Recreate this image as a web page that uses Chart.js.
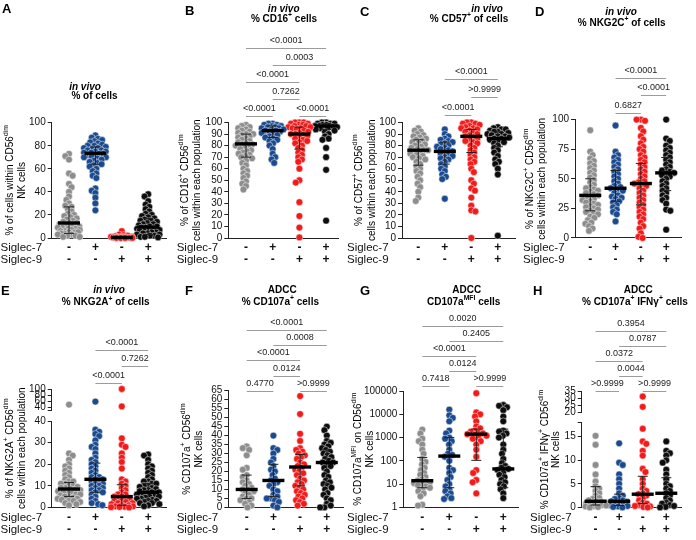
<!DOCTYPE html>
<html>
<head>
<meta charset="utf-8">
<script src="https://cdn.jsdelivr.net/npm/chart.js@4.4.1/dist/chart.umd.min.js"></script>
<style>
  html, body { margin: 0; padding: 0; background: #fff; }
  #wrap { position: relative; width: 696px; height: 540px; overflow: hidden; }
  #wrap canvas { position: absolute; left: 0; top: 0; }
</style>
</head>
<body>
<div id="wrap"></div>
<script>
const FONT = "'Liberation Sans', Arial, Helvetica, sans-serif";

// category rows
const siglec7 = ["-", "+", "-", "+"];
const siglec9 = ["-", "-", "+", "+"];
const groupColors = ["#8d8d8d", "#1b4a8e", "#f21a1a", "#0d0d0d"];

// A: in vivo % of cells
const A_grey = [73, 71, 68, 56, 54, 47, 44, 40, 36, 33, 30, 28, 27, 25, 23, 21, 20, 19, 18, 17, 16, 15, 14, 13, 13, 12, 11, 10, 10, 9, 9, 8, 8, 7, 7, 6, 6, 5, 5, 5, 4, 4, 3, 3, 2, 2, 1, 1];
const A_blue = [89, 87, 86, 85, 84, 83, 82, 81, 80, 80, 79, 78, 78, 77, 76, 76, 75, 75, 74, 74, 73, 73, 72, 72, 71, 70, 70, 69, 68, 67, 66, 65, 64, 63, 62, 60, 58, 56, 54, 52, 43, 41, 39, 35, 30, 24];
const A_red = [6, 3, 2.5, 2, 1.5, 1.2, 1, 1, 0.8, 0.7, 0.5, 0.5, 0.4, 0.3, 0.2, 0.2, 0.1, 0.1, 0, 0];
const A_black = [38, 36, 32, 29, 27, 25, 23, 21, 20, 19, 18, 17, 16, 15, 15, 14, 13, 12, 12, 11, 10, 10, 9, 9, 8, 8, 7, 7, 6, 6, 5, 5, 4, 4, 3, 3, 2, 2, 1, 1, 0.5];
const A_median = [13, 73.5, 0.5, 9.5];
const A_q1 = [4, 64, 0.1, 3];
const A_q3 = [27, 79, 1.2, 17];
const A_yTicks = [0, 20, 40, 60, 80, 100];

// B: in vivo % CD16+ cells
const B_grey = [98, 97, 96, 95, 94, 93, 92, 91, 90, 90, 89, 88, 87, 86, 85, 84, 83, 82, 81, 81, 80, 79, 78, 77, 76, 75, 74, 73, 72, 71, 70, 69, 67, 65, 63, 60, 58, 56, 54, 52, 49, 47, 45, 42];
const B_blue = [99, 99, 98, 98, 97, 97, 96, 96, 95, 95, 94, 94, 93, 93, 92, 92, 91, 90, 89, 88, 87, 86, 85, 84, 82, 80, 77, 73, 70, 68, 65];
const B_red = [100, 100, 100, 99, 99, 98, 98, 97, 97, 96, 96, 95, 95, 94, 93, 92, 91, 90, 90, 89, 88, 87, 86, 85, 84, 83, 82, 80, 78, 76, 74, 72, 70, 68, 66, 60, 50, 48, 31, 19, 9, 0.5];
const B_black = [100, 100, 99, 99, 99, 98, 98, 98, 97, 97, 97, 96, 96, 96, 95, 95, 94, 93, 92, 90, 88, 86, 85, 78, 70, 59, 15];
const B_median = [81.5, 93, 90, 97];
const B_q1 = [70, 87, 77, 94];
const B_q3 = [90, 97, 96, 99];
const B_yTicks = [0, 10, 20, 30, 40, 50, 60, 70, 80, 90, 100];
const B_pairs = [[0, 3], [1, 3], [0, 2], [1, 2], [0, 1], [2, 3]];
const B_pvals = ["<0.0001", "0.0003", "<0.0001", "0.7262", "<0.0001", "<0.0001"];

// C: in vivo % CD57+ of cells
const C_grey = [95, 93, 92, 90, 89, 88, 87, 86, 85, 84, 83, 82, 81, 80, 79, 78, 77, 76, 76, 75, 74, 73, 72, 71, 70, 69, 68, 66, 64, 62, 60, 58, 56, 53, 50, 47, 44, 40, 35, 32];
const C_blue = [94, 90, 88, 86, 85, 84, 83, 82, 81, 80, 79, 78, 77, 76, 75, 74, 73, 72, 71, 70, 69, 68, 66, 64, 62, 60, 58, 55, 53, 51, 34];
const C_red = [100, 100, 99, 99, 98, 97, 96, 95, 95, 94, 93, 92, 91, 90, 89, 88, 87, 86, 85, 84, 83, 82, 80, 78, 76, 74, 72, 70, 68, 66, 64, 60, 57, 50, 47, 43, 41, 35, 28, 24, 23, 0];
const C_black = [96, 95, 94, 94, 93, 92, 92, 91, 90, 90, 89, 88, 88, 87, 86, 86, 85, 84, 83, 82, 80, 78, 76, 74, 71, 68, 66, 64, 60, 55, 2];
const C_median = [76, 75, 88, 86];
const C_q1 = [63, 64, 74, 79];
const C_q3 = [85, 83, 94, 92];
const C_yTicks = B_yTicks;
const C_pairs = [[1, 3], [2, 3], [1, 2]];
const C_pvals = ["<0.0001", ">0.9999", "<0.0001"];

// D: in vivo % NKG2C+ of cells
const D_grey = [91, 73, 70, 67, 65, 63, 61, 59, 57, 55, 53, 51, 49, 47, 45, 43, 42, 41, 40, 39, 38, 37, 36, 35, 34, 33, 32, 31, 30, 29, 28, 27, 26, 25, 24, 23, 22, 21, 20, 18, 17, 15, 13, 12, 10, 8, 6];
const D_blue = [95, 73, 70, 68, 66, 64, 62, 60, 58, 56, 54, 52, 50, 48, 46, 44, 43, 42, 41, 40, 38, 36, 35, 34, 33, 31, 30, 28, 26, 24, 22, 20, 14];
const D_red = [100, 100, 99, 93, 90, 86, 83, 80, 77, 75, 73, 70, 68, 66, 64, 62, 60, 58, 56, 54, 52, 50, 48, 47, 46, 45, 44, 42, 40, 38, 36, 34, 32, 30, 28, 26, 24, 22, 20, 18, 16, 13, 10, 8, 4, 1, 0];
const D_black = [100, 84, 82, 78, 76, 74, 72, 70, 68, 66, 64, 62, 60, 58, 57, 56, 55, 54, 53, 52, 50, 48, 46, 44, 42, 40, 38, 36, 34, 32, 29, 24, 23, 7];
const D_median = [36, 42, 46, 55];
const D_q1 = [23, 31, 28, 40];
const D_q3 = [50, 57, 63, 68];
const D_yTicks = [0, 25, 50, 75, 100];
const D_pairs = C_pairs;
const D_pvals = ["<0.0001", "<0.0001", "0.6827"];

// E: in vivo % NKG2A+ of cells (broken axis at 40)
const E_grey = [48, 25, 24, 22, 20, 19, 18, 17, 16, 15, 14, 13, 12, 12, 11, 11, 10, 10, 9.5, 9, 9, 8.5, 8, 8, 7.5, 7, 7, 6.5, 6, 6, 5.5, 5, 5, 4.5, 4, 4, 3.5, 3, 3, 2.5, 2, 1.5, 1];
const E_blue = [58, 36, 35, 34, 33, 31, 29, 28, 27, 25, 23, 22, 21, 20, 19, 18, 17, 16, 15, 14, 14, 13, 13, 12, 12, 11, 11, 10, 10, 9, 9, 8, 8, 7, 7, 6, 5, 4, 3, 2, 1.5, 1];
const E_red = [100, 42, 32, 29, 28, 25, 23, 21, 18, 13, 12, 11, 10, 9, 8, 7, 6, 6, 5, 5, 4, 4, 3.5, 3, 3, 2.5, 2, 2, 1.5, 1, 1, 0.5, 0.5, 0.3, 0.2, 0.1, 0];
const E_black = [24.5, 24, 22, 20, 19, 18, 17, 16, 15, 14, 13, 12, 12, 11, 11, 10, 10, 9.5, 9, 8.5, 8, 8, 7.5, 7, 7, 6.5, 6, 6, 5.5, 5, 5, 4.5, 4, 4, 3.5, 3, 3, 2.5, 2, 2, 1.5, 1, 0.5];
const E_median = [8.5, 13, 5, 7];
const E_q1 = [5, 7, 1, 3.5];
const E_q3 = [11.5, 20.5, 10.5, 11];
const E_yTicks = [0, 10, 20, 30, 40];
const E_yTicksTop = [40, 60, 80, 100];
const E_pairs = C_pairs;
const E_pvals = ["<0.0001", "0.7262", "<0.0001"];

// F: ADCC % CD107a+ cells
const F_grey = [34, 33, 32, 29, 22, 21, 18, 17, 15, 14, 13, 12, 11, 10, 10, 9, 8, 7, 6, 5, 5, 4, 3, 2, 1, 0];
const F_blue = [40, 33, 32, 30, 27, 25, 23, 21, 20, 18, 16, 15, 14, 13, 12, 10, 9, 7, 6, 5, 5, 4, 3, 1, 0];
const F_red = [62, 52, 41, 37, 33, 32, 31, 30, 29, 28, 27, 25, 24, 23, 22, 21, 20, 19, 18, 16, 15, 14, 13, 12, 11, 10, 9, 8, 7, 6, 5, 4, 3, 2, 1];
const F_black = [45, 43, 40, 37, 36, 35, 34, 33, 32, 31, 30, 29, 28, 27, 26, 25, 25, 24, 23, 22, 20, 18, 17, 15, 14, 13, 12, 11, 10, 8, 7, 5, 4, 2, 1, 0, 0];
const F_median = [10, 15, 22.5, 25];
const F_q1 = [5, 6, 12, 13];
const F_q3 = [18, 24, 29.5, 32];
const F_yTicks = [0, 5, 10, 15, 20, 25, 30, 35, 40, 45, 50, 55, 60, 65];
const F_pairs = B_pairs;
const F_pvals = ["<0.0001", "0.0008", "<0.0001", "0.0124", "0.4770", ">0.9999"];

// G: ADCC CD107a MFI (log axis)
const G_grey = [2200, 1500, 900, 700, 500, 300, 200, 120, 90, 70, 50, 40, 30, 25, 20, 16, 14, 13, 12, 11, 10, 9, 8, 7, 6, 5, 4, 3, 1.3, 1.2];
const G_blue = [16000, 9000, 7000, 5000, 2000, 1500, 1000, 900, 700, 500, 300, 200, 180, 150, 100, 50, 40, 30, 20, 15, 10, 8, 6, 5, 4, 3, 2.5, 2.3];
const G_red = [80000, 12000, 10000, 8000, 5000, 3000, 2500, 2000, 1800, 1600, 1500, 1400, 1300, 1200, 1000, 900, 700, 500, 300, 150, 40, 30, 15, 12, 4];
const G_black = [25000, 23000, 20000, 15000, 8000, 5000, 2000, 1800, 1500, 1200, 1000, 500, 300, 200, 120, 80, 60, 50, 45, 40, 30, 25, 20, 15, 12, 10, 8, 6, 4, 2.5];
const G_median = [14, 160, 1400, 45];
const G_q1 = [7, 7, 105, 7];
const G_q3 = [140, 1000, 2300, 2300];
const G_yTicks = [1, 10, 100, 1000, 10000, 100000];
const G_pairs = B_pairs;
const G_pvals = ["0.0020", "0.2405", "<0.0001", "0.0124", "0.7418", ">0.9999"];

// H: ADCC % CD107a+ IFNg+ cells (broken axis at ~19)
const H_grey = [15.2, 13.3, 9, 7, 5.5, 4.5, 4, 3.5, 3, 2.5, 2, 1.8, 1.5, 1.3, 1.2, 1, 0.9, 0.8, 0.7, 0.6, 0.5, 0.4, 0.3, 0.2, 0.1, 0];
const H_blue = [13.6, 9.5, 9, 7, 6, 5, 4, 3, 2.5, 2, 1.8, 1.5, 1.3, 1.2, 1, 0.8, 0.6, 0.5, 0.3, 0.2, 0.1, 0];
const H_red = [31.5, 24, 16.7, 14, 13.5, 12, 11, 8.2, 7.5, 6, 5, 4, 3.5, 3, 2.8, 2.5, 2, 1.5, 1, 0.8, 0.5, 0.3, 0.2, 0.1, 0];
const H_black = [14, 12, 11.5, 11, 10, 9.5, 8, 7, 6, 5, 4.5, 4, 3.5, 3, 2.5, 2, 1.5, 1, 0.8, 0.5, 0.3, 0.1, 0];
const H_median = [1.3, 1.3, 2.8, 3];
const H_q1 = [0.5, 0.4, 0.8, 0.6];
const H_q3 = [4.4, 2.8, 6.6, 6.3];
const H_yTicks = [0, 5, 10, 15];
const H_yTicksTop = [20, 25, 30, 35];
const H_pairs = B_pairs;
const H_pvals = ["0.3954", "0.0787", "0.0372", "0.0044", ">0.9999", ">0.9999"];

const levels6 = [4, 3, 2, 1, 0, 0];
const levels3 = [2, 1, 0];

Chart.defaults.font.family = FONT;

// rich text: ^{..} superscript, *..* italic
function parseRich(s) {
  return s.split(/(\^\{[^}]*\}|\*[^*]*\*)/).filter(Boolean).map(t => {
    if (t.startsWith("^{")) return { t: t.slice(2, -1), sup: true };
    if (t.startsWith("*")) return { t: t.slice(1, -1), it: true };
    return { t };
  });
}

function drawRich(ctx, s, x, y, size, weight) {
  const items = parseRich(s).map(p => {
    const fs = p.sup ? size * 0.68 : size;
    const f = (p.it ? "italic " : "") + weight + " " + fs + "px " + FONT;
    ctx.font = f;
    return { t: p.t, f, w: ctx.measureText(p.t).width, dy: p.sup ? -size * 0.38 : 0 };
  });
  const total = items.reduce((a, b) => a + b.w, 0);
  let cx = x - total / 2;
  ctx.textAlign = "left";
  ctx.textBaseline = "middle";
  items.forEach(it => {
    ctx.font = it.f;
    ctx.fillText(it.t, cx, y + it.dy);
    cx += it.w;
  });
}

const decorPlugin = {
  id: "decor",
  afterDraw(chart, args, o) {
    const ctx = chart.ctx;
    const ca = chart.chartArea;
    const xs = chart.scales.x;
    ctx.save();
    ctx.fillStyle = "#000";
    ctx.font = "bold 13px " + FONT;
    ctx.textAlign = "left";
    ctx.textBaseline = "middle";
    ctx.fillText(o.letter, o.letterPos[0], o.letterPos[1]);

    o.title.forEach(([s, cx, cy]) => drawRich(ctx, s, cx, cy, 10, "bold"));

    const midY = (ca.top + ca.bottom) / 2;
    o.ytitle.forEach((s, k) => {
      ctx.save();
      ctx.translate(o.yTitleX[k], midY);
      ctx.rotate(-Math.PI / 2);
      drawRich(ctx, s, 0, 0, 10, "normal");
      ctx.restore();
    });

    ctx.fillStyle = "#111";
    ctx.font = "11.5px " + FONT;
    ctx.textAlign = "left";
    ctx.textBaseline = "middle";
    ctx.fillText("Siglec-7", o.siglecX, ca.bottom + 10);
    ctx.fillText("Siglec-9", o.siglecX, ca.bottom + 22);

    (o.pairs || []).forEach(([i, j], k) => {
      const y = Math.round(ca.top - o.brBase - o.levels[k] * o.brStep) + 0.5;
      const x1 = xs.getPixelForValue(i);
      const x2 = xs.getPixelForValue(j);
      ctx.strokeStyle = "#9c9c9c";
      ctx.lineWidth = 1;
      ctx.beginPath();
      ctx.moveTo(x1, y);
      ctx.lineTo(x2, y);
      ctx.stroke();
      ctx.fillStyle = "#222";
      ctx.font = "9px " + FONT;
      ctx.textAlign = "center";
      ctx.fillText(o.pvals[k], (x1 + x2) / 2, y - 8);
    });
    ctx.restore();
  }
};

function yAxis(type, min, max, marks, labelled, extra) {
  return Object.assign({
    type: type,
    min: min,
    max: max,
    position: "left",
    grid: { drawOnChartArea: false, drawTicks: true, tickLength: 4, color: "#222" },
    border: { color: "#222", width: 1 },
    ticks: {
      autoSkip: false,
      padding: 2,
      color: "#111",
      font: { size: 10 },
      callback: v => (labelled.includes(v) ? String(v) : "")
    },
    afterBuildTicks: s => { s.ticks = marks.map(v => ({ value: v })); },
    afterFit: s => { s.width = 40; }
  }, extra || {});
}

// beeswarm offsets in pixels, from pixel y positions
function swarm(ys, d, maxOff) {
  const order = ys.map((y, i) => i).sort((a, b) => ys[a] - ys[b]);
  const placed = [];
  const out = [];
  order.forEach((i, n) => {
    const y = ys[i];
    const near = placed.filter(p => Math.abs(p.y - y) < d);
    const cands = [0];
    near.forEach(p => {
      const dx = Math.sqrt(d * d - (p.y - y) * (p.y - y));
      cands.push(p.x + dx, p.x - dx);
    });
    const sgn = n % 2 ? 1 : -1;
    cands.sort((a, b) => (Math.abs(a) - Math.abs(b)) || sgn * (a - b));
    let best = 0, bestGap = -1;
    for (const c of cands) {
      if (Math.abs(c) > maxOff) continue;
      const gap = Math.min(Infinity, ...near.map(p => Math.hypot(p.x - c, p.y - y)));
      if (gap >= d - 0.01) { best = c; break; }
      if (gap > bestGap) { bestGap = gap; best = c; }
    }
    out[i] = best;
    placed.push({ x: best, y });
  });
  return out;
}

function makePanel(p) {
  const g = p.geo;
  const canvas = document.createElement("canvas");
  canvas.width = 696;
  canvas.height = 540;
  document.getElementById("wrap").appendChild(canvas);

  const xMin = -(g.cat0 - g.axisX) / g.step;
  const xMax = 3 + (g.xRight - g.cat0 - 3 * g.step) / g.step;
  const yMarks = p.yMarks || p.yTicks;

  const scales = {
    x: {
      type: "linear",
      min: xMin,
      max: xMax,
      grid: { display: false, drawTicks: false },
      border: { color: "#222", width: 1 },
      ticks: {
        padding: 4,
        autoSkip: false,
        maxRotation: 0,
        color: "#111",
        font: { size: 12, weight: "bold", lineHeight: 1 },
        callback: v => [siglec7[v], siglec9[v]]
      },
      afterBuildTicks: s => { s.ticks = [0, 1, 2, 3].map(v => ({ value: v })); },
      afterFit: s => { s.height = 30; }
    }
  };

  if (p.broken) {
    const b = p.broken;
    scales.yTop = yAxis("linear", b.min, b.max, b.marks, b.labelled, { stack: "seg", stackWeight: b.wTop, weight: 3 });
    scales.yGap = { type: "linear", display: false, position: "left", stack: "seg", stackWeight: b.wGap, weight: 2 };
    scales.y = yAxis("linear", p.yMin, p.yMax, yMarks, p.yTicks, { stack: "seg", stackWeight: b.wLow, weight: 1 });
  } else {
    scales.y = yAxis(p.yType || "linear", p.yMin, p.yMax, yMarks, p.yTicks);
  }

  const datasets = [];
  datasets.push({
    data: p.median.map((m, i) => ({ x: i, y: m })),
    yAxisID: "y",
    pointStyle: "line",
    pointRadius: 11,
    pointBorderWidth: 3.4,
    pointBorderColor: "#000",
    order: 0,
    clip: false
  });
  p.q1.forEach((q, i) => {
    datasets.push({
      data: [{ x: i, y: q }, { x: i, y: p.q3[i] }],
      yAxisID: "y",
      showLine: true,
      borderColor: "#222",
      borderWidth: 1,
      pointStyle: "line",
      pointRadius: 5,
      pointBorderColor: "#222",
      pointBorderWidth: 1,
      order: 1,
      clip: false
    });
  });
  const groupSets = [];
  p.groups.forEach((vals, gi) => {
    const idx = [];
    const split = p.broken ? [vals.filter(v => v <= p.broken.cut), vals.filter(v => v > p.broken.cut)] : [vals];
    split.forEach((part, k) => {
      if (!part.length) return;
      idx.push(datasets.length);
      datasets.push({
        data: part.map(v => ({ x: gi, y: v })),
        yAxisID: k === 0 ? "y" : "yTop",
        backgroundColor: groupColors[gi],
        borderColor: "rgba(255,255,255,0.6)",
        borderWidth: 0.8,
        pointRadius: 3.4,
        order: 2,
        clip: false
      });
    });
    groupSets.push(idx);
  });

  const chart = new Chart(canvas, {
    type: "scatter",
    data: { datasets },
    options: {
      responsive: false,
      animation: false,
      devicePixelRatio: 1,
      events: [],
      layout: { padding: { left: g.axisX - 40, right: 696 - g.xRight, top: g.top, bottom: 540 - g.bottom - 30 } },
      scales,
      plugins: {
        legend: { display: false },
        tooltip: { enabled: false },
        decor: p.decor
      }
    },
    plugins: [decorPlugin]
  });

  // spread the dots sideways like a scatter dot plot
  const xs = chart.scales.x;
  const stepPx = xs.getPixelForValue(1) - xs.getPixelForValue(0);
  groupSets.forEach((idx, gi) => {
    const pts = [];
    idx.forEach(di => {
      const ds = chart.data.datasets[di];
      const sc = chart.scales[ds.yAxisID];
      ds.data.forEach(pt => pts.push({ pt, py: sc.getPixelForValue(pt.y) }));
    });
    const offs = swarm(pts.map(q => q.py), 4.3, 11.5);
    pts.forEach((q, k) => { q.pt.x = gi + offs[k] / stepPx; });
  });
  chart.update("none");
}

const panels = [
  {
    groups: [A_grey, A_blue, A_red, A_black], median: A_median, q1: A_q1, q3: A_q3,
    yMin: 0, yMax: 100, yTicks: A_yTicks,
    geo: { axisX: 51.7, xRight: 167, top: 122.7, bottom: 238, cat0: 69, step: 26.4 },
    decor: {
      letter: "A", letterPos: [2, 9.5],
      title: [["*in vivo*", 85, 87], ["% of cells", 94.5, 96.5]],
      ytitle: ["% of cells within CD56^{dim}", "NK cells"], yTitleX: [10, 22.7],
      siglecX: 0.5
    }
  },
  {
    groups: [B_grey, B_blue, B_red, B_black], median: B_median, q1: B_q1, q3: B_q3,
    yMin: 0, yMax: 100, yTicks: B_yTicks,
    geo: { axisX: 228.3, xRight: 338, top: 122.5, bottom: 238, cat0: 246, step: 26.7 },
    decor: {
      letter: "B", letterPos: [185, 11.5],
      title: [["*in vivo*", 283.7, 9.3], ["% CD16^{+} cells", 284, 19]],
      ytitle: ["% of CD16^{+} CD56^{dim}", "cells within each population"], yTitleX: [185, 197.3],
      siglecX: 176.7, pairs: B_pairs, pvals: B_pvals, levels: levels6, brBase: 7, brStep: 16.9
    }
  },
  {
    groups: [C_grey, C_blue, C_red, C_black], median: C_median, q1: C_q1, q3: C_q3,
    yMin: 0, yMax: 100, yTicks: C_yTicks,
    geo: { axisX: 402, xRight: 515, top: 122.5, bottom: 238, cat0: 418.3, step: 26.5 },
    decor: {
      letter: "C", letterPos: [360, 12.5],
      title: [["*in vivo*", 487, 9.3], ["% CD57^{+} of cells", 469, 19]],
      ytitle: ["% of CD57^{+} CD56^{dim}", "cells within each population"], yTitleX: [359, 372],
      siglecX: 347, pairs: C_pairs, pvals: C_pvals, levels: levels3, brBase: 7.5, brStep: 17.8
    }
  },
  {
    groups: [D_grey, D_blue, D_red, D_black], median: D_median, q1: D_q1, q3: D_q3,
    yMin: 0, yMax: 100, yTicks: D_yTicks,
    geo: { axisX: 575, xRight: 687, top: 119.6, bottom: 238, cat0: 591, step: 26.6 },
    decor: {
      letter: "D", letterPos: [535, 12.5],
      title: [["*in vivo*", 621, 12.7], ["% NKG2C^{+} of cells", 621.7, 23.3]],
      ytitle: ["% of NKG2C^{+} CD56^{dim}", "cells within each population"], yTitleX: [530, 542.7],
      siglecX: 523, pairs: D_pairs, pvals: D_pvals, levels: levels3, brBase: 6.7, brStep: 17.5
    }
  },
  {
    groups: [E_grey, E_blue, E_red, E_black], median: E_median, q1: E_q1, q3: E_q3,
    yMin: 0, yMax: 40, yTicks: E_yTicks,
    broken: { cut: 40, min: 30, max: 100, marks: [30].concat(E_yTicksTop), labelled: E_yTicksTop, wTop: 21, wGap: 11, wLow: 86.4 },
    geo: { axisX: 51.7, xRight: 167, top: 389, bottom: 507.4, cat0: 69, step: 26.4 },
    decor: {
      letter: "E", letterPos: [1, 291],
      title: [["*in vivo*", 109, 290.7], ["% NKG2A^{+} of cells", 105.7, 302.7]],
      ytitle: ["% of NKG2A^{+} CD56^{dim}", "cells within each population"], yTitleX: [10, 22.7],
      siglecX: 0.5, pairs: E_pairs, pvals: E_pvals, levels: levels3, brBase: 6.5, brStep: 16.3
    }
  },
  {
    groups: [F_grey, F_blue, F_red, F_black], median: F_median, q1: F_q1, q3: F_q3,
    yMin: 0, yMax: 65, yTicks: F_yTicks,
    geo: { axisX: 228.3, xRight: 343, top: 390.7, bottom: 507.4, cat0: 246.7, step: 26.7 },
    decor: {
      letter: "F", letterPos: [185, 291],
      title: [["ADCC", 282.3, 290.7], ["% CD107a^{+} cells", 280.3, 302.3]],
      ytitle: ["% CD107a^{+} CD56^{dim}", "NK cells"], yTitleX: [187.3, 199.3],
      siglecX: 176.7, pairs: F_pairs, pvals: F_pvals, levels: levels6, brBase: 0, brStep: 15.2
    }
  },
  {
    groups: [G_grey, G_blue, G_red, G_black], median: G_median, q1: G_q1, q3: G_q3,
    yType: "logarithmic", yMin: 1, yMax: 100000, yTicks: G_yTicks,
    geo: { axisX: 403.3, xRight: 518, top: 391, bottom: 507.4, cat0: 422.3, step: 27 },
    decor: {
      letter: "G", letterPos: [360, 291],
      title: [["ADCC", 466.7, 290.7], ["CD107a^{MFI} cells", 463.7, 302.3]],
      ytitle: ["% CD107a^{MFI} on CD56^{dim}", "NK cells"], yTitleX: [358.3, 370],
      siglecX: 347, pairs: G_pairs, pvals: G_pvals, levels: levels6, brBase: 4.7, brStep: 15
    }
  },
  {
    groups: [H_grey, H_blue, H_red, H_black], median: H_median, q1: H_q1, q3: H_q3,
    yMin: 0, yMax: 18, yTicks: H_yTicks, yMarks: H_yTicks.concat([18]),
    broken: { cut: 19, min: 20, max: 35, marks: H_yTicksTop, labelled: H_yTicksTop, wTop: 20.6, wGap: 10.3, wLow: 84.8 },
    geo: { axisX: 581.7, xRight: 694, top: 391.7, bottom: 507.4, cat0: 597.3, step: 26.5 },
    decor: {
      letter: "H", letterPos: [533, 291],
      title: [["ADCC", 638.3, 290.7], ["% CD107a^{+} IFNγ^{+} cells", 635, 302.3]],
      ytitle: ["% CD107a^{+} IFNγ^{+} CD56^{dim}", "NK cells"], yTitleX: [545, 556.7],
      siglecX: 530, pairs: H_pairs, pvals: H_pvals, levels: levels6, brBase: 1, brStep: 15
    }
  }
];

panels.forEach(makePanel);
</script>
</body>
</html>
